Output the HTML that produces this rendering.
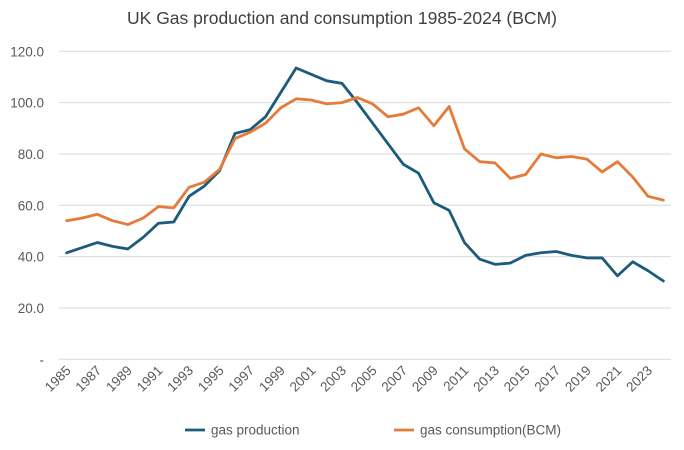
<!DOCTYPE html>
<html><head><meta charset="utf-8"><style>
body{margin:0;background:#fff;}
svg{font-family:"Liberation Sans",sans-serif;display:block;}
</style></head><body>
<svg id="chart" width="684" height="450"></svg>
<script>
const years=[];for(let y=1985;y<=2024;y++)years.push(y);
const production=[41.5,43.5,45.5,44,43,47.5,53,53.5,63.5,67.5,73.5,88,89.5,94.5,104,113.5,111,108.5,107.5,100,92,84,76,72.5,61,58,45.5,39,37,37.5,40.5,41.5,42,40.5,39.5,39.5,32.5,38,34.5,30.5];
const consumption=[54,55,56.5,54,52.5,55,59.5,59,67,69,74,86,88.5,92,98,101.5,101,99.5,100,102,99.5,94.5,95.5,98,91,98.5,82,77,76.5,70.5,72,80,78.5,79,78,73,77,71,63.5,62];
const yTicks=[0,20,40,60,80,100,120];
const L=59,R=671,T=51.3,B=359.3;
const svg=document.getElementById('chart');
const NS='http://www.w3.org/2000/svg';
function el(t,a,p){const e=document.createElementNS(NS,t);for(const k in a)e.setAttribute(k,a[k]);(p||svg).appendChild(e);return e;}
const step=(R-L)/years.length;
const xs=i=>L+step*(i+0.5);
const ys=v=>B-(v/120)*(B-T);
let t=el('text',{x:342,y:24,'text-anchor':'middle','font-size':17.5,fill:'#404040'});t.textContent='UK Gas production and consumption 1985-2024 (BCM)';


yTicks.forEach(v=>{
 const g=el('line',{x1:L,x2:R,y1:ys(v),y2:ys(v),stroke:'#d9d9d9','stroke-width':1});
 
 
 const lb=el('text',{x:44,y:ys(v)+5,'text-anchor':'end','font-size':13.5,fill:'#595959'});
 lb.textContent=v===0?'-':v.toFixed(1);
 
 
});
years.forEach((y,i)=>{
 if(i%2)return;
 const x=xs(i)+5,yy=B+12;
 const lb=el('text',{x:x,y:yy,'text-anchor':'end','font-size':13.5,fill:'#595959',transform:`rotate(-45 ${x} ${yy})`});
 lb.textContent=y;
 
 
});
function line(data,color,name){
 const p=el('polyline',{points:data.map((v,i)=>xs(i)+','+ys(v)).join(' '),fill:'none',stroke:color,'stroke-width':2.8,'stroke-linejoin':'round','stroke-linecap':'round'});
 
 
}
line(production,'#1c5b7b','production-line');
line(consumption,'#e57b3a','consumption-line');
const lg=[['gas production','#1c5b7b',185],['gas consumption(BCM)','#e57b3a',394]];
lg.forEach(([n,c,x])=>{
 const g=el('g',{});
 
 
 el('line',{x1:x,x2:x+20,y1:430,y2:430,stroke:c,'stroke-width':2.8},g);
 const tx=el('text',{x:x+26,y:434.5,'font-size':13.5,fill:'#595959'},g);tx.textContent=n;
});
</script>
</body></html>
